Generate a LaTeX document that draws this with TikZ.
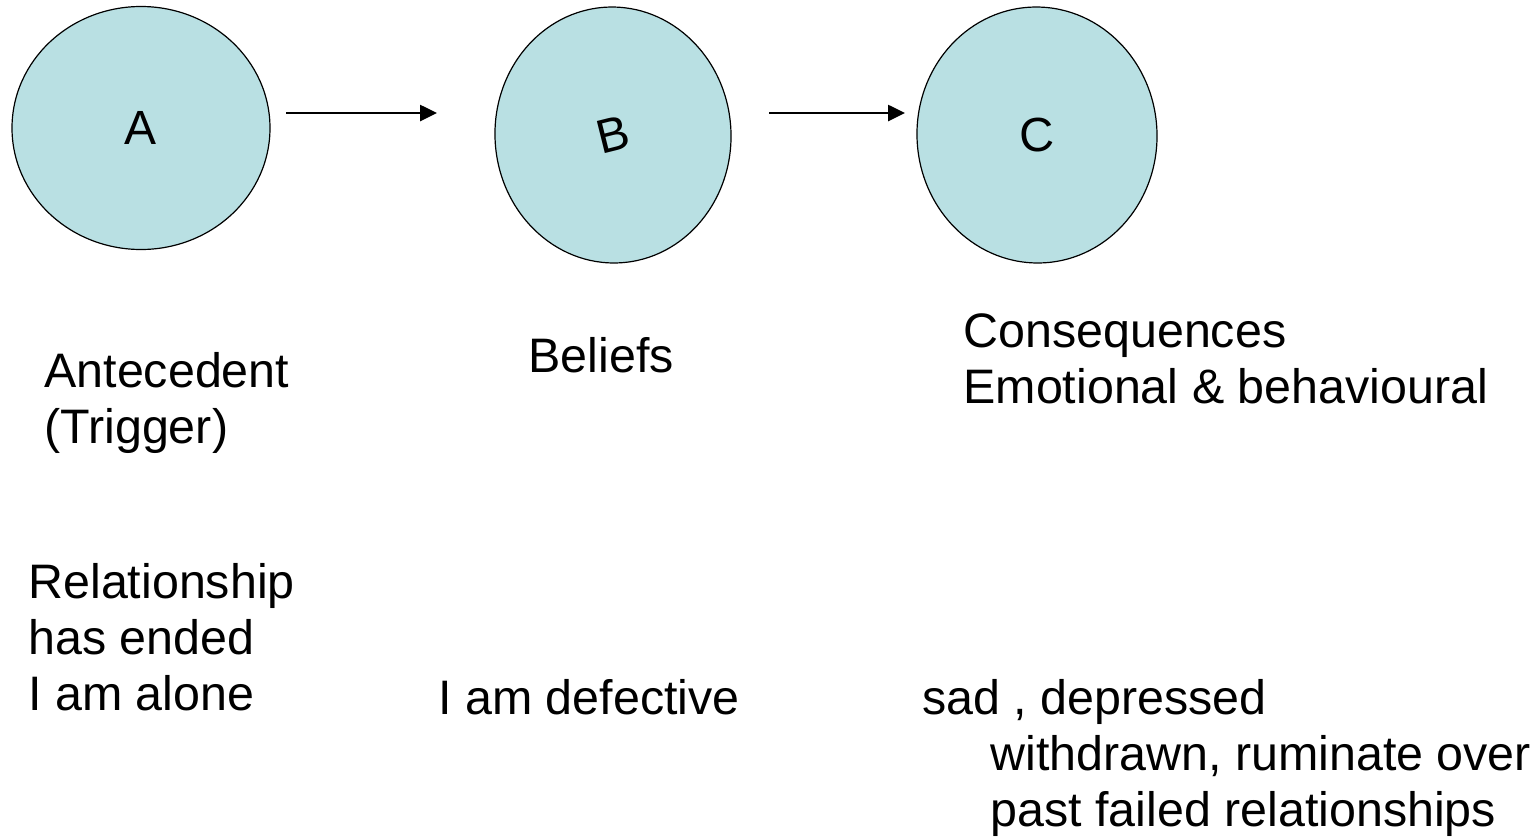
\documentclass[tikz,border=0pt]{standalone}
\usepackage{fontspec}
\setmainfont{Liberation Sans}
\usepackage{graphicx}
\usetikzlibrary{shapes.geometric,arrows.meta}
\definecolor{bubblefill}{HTML}{B9E0E3}

\begin{document}
\begin{tikzpicture}[x=0.5pt,y=-0.5pt,
        bubble/.style={ellipse,draw,line width=0.6pt,fill=bubblefill,inner sep=0pt,
            font=\fontsize{24pt}{28pt}\selectfont},
        link/.style={line width=1.3pt,-{Triangle[length=8.5pt,width=8pt]}},
        txt/.style={anchor=north west,inner sep=0pt,align=left,
            font=\fontsize{24.2pt}{28pt}\selectfont}]
            \useasboundingbox (0,0) rectangle (1536,836);

            \node[bubble,minimum width=129pt,minimum height=121.5pt] (A) at (141,128) {A};
            \node[bubble,minimum width=118pt,minimum height=128pt,rotate=3] (B) at (613,135) {\rotatebox{11}{B}};
            \node[bubble,minimum width=120pt,minimum height=128pt,rotate=3] (C) at (1037,135) {C};

            \coordinate (AB1) at (286,113);
            \coordinate (AB2) at (437,113);
            \coordinate (BC1) at (769,113);
            \coordinate (BC2) at (905,113);
            \draw[link] (AB1) -- (AB2);
            \draw[link] (BC1) -- (BC2);

            \node[txt] (antecedent) at (44,352) {Antecedent\\(Trigger)};
            \node[txt] (beliefs) at (528,337) {Beliefs};
            \node[txt] (consequences) at (963,313) {Consequences\\Emotional \& behavioural};

            \node[txt] (trigger) at (28,563) {Relationship\\has ended\\I am alone};
            \node[txt] (belief) at (438,679) {I am defective};
            \node[txt] (result) at (922,679) {sad , depressed\\\hspace*{34pt}withdrawn, ruminate over\\\hspace*{34pt}past failed relationships};
        \end{tikzpicture}
\end{document}
